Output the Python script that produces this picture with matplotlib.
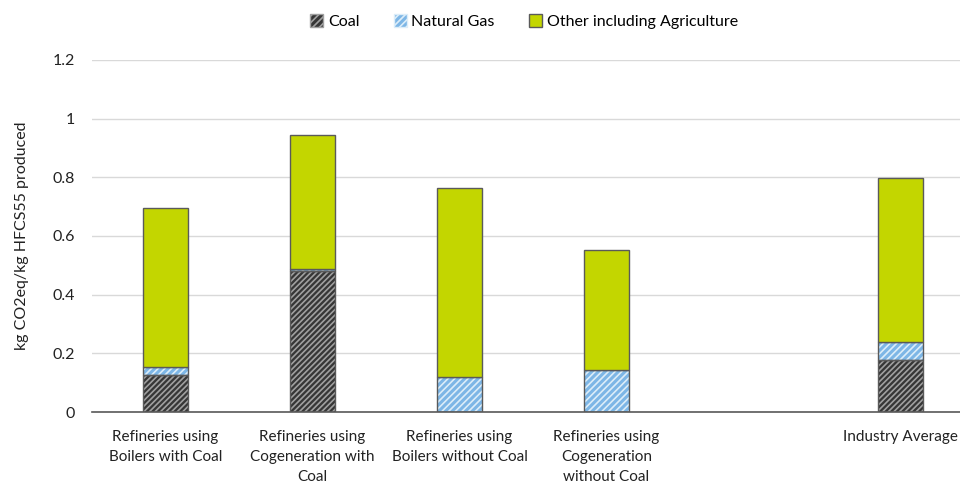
import matplotlib
matplotlib.use("Agg")
import matplotlib.pyplot as plt
import numpy as np

plt.rcParams['font.family'] = ['Lato', 'DejaVu Sans']

categories = ["Refineries using\nBoilers with Coal",
              "Refineries using\nCogeneration with\nCoal",
              "Refineries using\nBoilers without Coal",
              "Refineries using\nCogeneration\nwithout Coal",
              "",
              "Industry Average"]
coal = [0.126, 0.482, 0.0, 0.0, 0.0, 0.177]
natural_gas = [0.027, 0.006, 0.119, 0.143, 0.0, 0.062]
other = [0.543, 0.456, 0.645, 0.409, 0.0, 0.559]
series_names = ["Coal", "Natural Gas", "Other including Agriculture"]

fig = plt.figure(figsize=(9.6, 4.83), dpi=100)
ax = fig.add_axes([92/960, 1-412/483, 868/960, 352/483])

x = np.arange(len(categories))
w = 0.31
coal_a = np.array(coal); gas_a = np.array(natural_gas); oth_a = np.array(other)
valid = np.array([c != "" for c in categories])

plt.rcParams['hatch.linewidth'] = 1.2
# coal
ax.bar(x[valid], coal_a[valid], w, color='#363636', hatch='//////', edgecolor='#a0a0a0', linewidth=0, zorder=2)
ax.bar(x[valid], coal_a[valid], w, fill=False, edgecolor='#5a5a5a', linewidth=1, zorder=3)
# gas
ax.bar(x[valid], gas_a[valid], w, bottom=coal_a[valid], color='#7db6e6', hatch='/////', edgecolor='#dcedf9', linewidth=0, zorder=2)
ax.bar(x[valid], gas_a[valid], w, bottom=coal_a[valid], fill=False, edgecolor='#5a5a5a', linewidth=1, zorder=3)
# other
ax.bar(x[valid], oth_a[valid], w, bottom=(coal_a+gas_a)[valid], color='#c3d600', edgecolor='#5a5a5a', linewidth=1, zorder=3)

ax.set_xlim(-0.5, -0.5 + 868/147)
ax.set_ylim(0, 1.2)
ax.set_yticks([0, 0.2, 0.4, 0.6, 0.8, 1.0, 1.2])
ax.set_yticklabels(["0", "0.2", "0.4", "0.6", "0.8", "1", "1.2"], fontsize=11.5, color='#222222')
ax.set_xticks(x)
ax.set_xticklabels(categories, fontsize=11, color='#222222', linespacing=1.55)
ax.tick_params(axis='x', length=0, pad=13)
ax.tick_params(axis='y', length=0, pad=12)
ax.grid(axis='y', color='#d9d9d9', linewidth=1, zorder=0)
ax.set_axisbelow(True)
for s in ['top', 'right', 'left']:
    ax.spines[s].set_visible(False)
ax.spines['bottom'].set_color('#595959')
ax.spines['bottom'].set_linewidth(1.2)
ax.set_ylabel("kg CO2eq/kg HFCS55 produced", fontsize=11.5, color='#222222', labelpad=17)

from matplotlib.patches import Patch
handles = [Patch(facecolor='#363636', hatch='/////', edgecolor='#a0a0a0', label=series_names[0]),
           Patch(facecolor='#7db6e6', hatch='/////', edgecolor='#dcedf9', label=series_names[1]),
           Patch(facecolor='#c3d600', edgecolor='#5a5a5a', label=series_names[2])]
fig.legend(handles=handles, loc='upper center', bbox_to_anchor=(0.546, 1.0), ncol=3, frameon=False,
           fontsize=11.5, handlelength=0.8, handleheight=0.8, handletextpad=0.3, columnspacing=2.15)

fig.savefig("out.png", dpi=100)
